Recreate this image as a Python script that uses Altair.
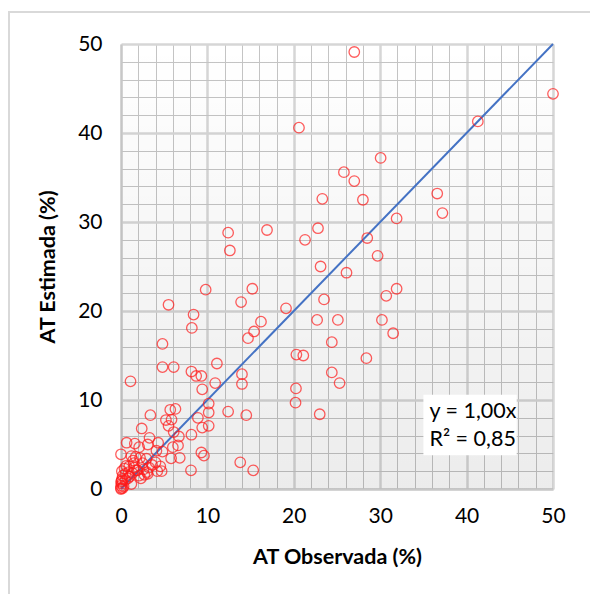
import altair as alt
import pandas as pd

observada = [27.0, 50.0, 20.6, 41.3, 30.05, 25.8, 27.0, 36.6, 23.3, 28.0, 37.2, 31.9,
             12.4, 16.9, 22.8, 21.3, 28.5, 12.6, 29.7, 23.1, 26.1, 9.8, 15.2, 31.9,
             30.7, 13.9, 23.5, 5.5, 19.1, 8.4, 22.7, 25.1, 30.2, 16.2, 8.2, 31.5,
             15.4, 14.7, 24.4, 4.8, 20.3, 21.1, 28.4, 11.1, 4.8, 6.1, 8.15, 8.7,
             9.3, 14.0, 24.4, 1.1, 14.0, 10.9, 25.3, 9.4, 20.25, 10.15, 20.2, 12.4,
             10.15, 23.0, 14.5, 3.4, 5.7, 6.3, 5.2, 5.85, 8.9, 5.5, 9.4, 10.15,
             2.4, 6.1, 8.15, 6.7, 3.3, 0.65, 1.6, 4.3, 6.0, 6.6, 3.1, 2.1,
             9.3, 9.6, 4.8, 4.1, 0.0, 1.2, 5.8, 6.8, 13.8, 15.3, 8.1, 4.7,
             4.2, 4.55, 3.6, 3.25, 2.7, 2.1, 1.4, 1.5, 2.5, 1.9, 1.2, 0.1,
             0.5, 0.8, 0.1, 0.1, 0.0, 0.0, 0.0, 0.2, 2.95, 1.8, 0.95, 3.1,
             4.0, 0.0, 0.2, 0.4, 0.3, 0.1, 0.5, 0.6, 0.9, 1.0, 1.3, 1.5,
             1.7, 2.2, 2.6, 3.0, 2.3]
estimada = [49.1, 44.4, 40.6, 41.3, 37.2, 35.6, 34.6, 33.2, 32.6, 32.5, 31.0, 30.4,
            28.8, 29.1, 29.3, 28.0, 28.2, 26.8, 26.2, 25.0, 24.3, 22.4, 22.5, 22.5,
            21.7, 21.0, 21.3, 20.7, 20.3, 19.6, 19.0, 19.0, 19.0, 18.8, 18.1, 17.5,
            17.7, 16.95, 16.5, 16.3, 15.1, 15.0, 14.7, 14.1, 13.7, 13.7, 13.2, 12.7,
            12.7, 12.9, 13.1, 12.1, 11.8, 11.9, 11.9, 11.2, 11.3, 9.6, 9.7, 8.7,
            8.6, 8.4, 8.3, 8.3, 8.9, 9.0, 7.75, 7.8, 8.0, 7.1, 6.9, 7.1,
            6.8, 6.4, 6.1, 5.9, 5.75, 5.2, 5.1, 5.2, 4.7, 4.9, 5.0, 4.7,
            4.1, 3.75, 4.2, 4.3, 3.9, 3.7, 3.45, 3.5, 3.0, 2.1, 2.1, 2.0,
            2.0, 2.55, 2.7, 2.4, 1.6, 1.5, 3.2, 2.9, 2.9, 2.1, 0.55, 2.0,
            1.7, 1.2, 1.1, 0.6, 0.35, 0.0, 0.1, 0.1, 3.4, 2.1, 2.55, 1.7,
            3.0, 0.8, 1.5, 2.3, 0.3, 0.9, 1.0, 2.6, 1.9, 1.4, 1.8, 2.4,
            3.6, 3.5, 2.2, 1.9, 1.2]

line_x = [0, 50]
line_y = [0, 50]

eq_lines = ["y = 1,00x", "R² = 0,85"]
eq_x = [35.7, 35.7]
eq_y = [8.7, 5.5]

box_x = [35.0]
box_x2 = [45.8]
box_y = [3.8]
box_y2 = [10.6]

df = pd.DataFrame({"obs": observada, "est": estimada})
df_line = pd.DataFrame({"obs": line_x, "est": line_y})
df_eq = pd.DataFrame({"t": eq_lines, "obs": eq_x, "est": eq_y})
df_box = pd.DataFrame({"obs": box_x, "obs2": box_x2, "est": box_y, "est2": box_y2})

FONT = "Lato"
W, H = 432, 445
PL, PT = 121, 44

grid_vals = list(range(0, 51, 2))
lab_expr = "datum.value % 10 === 0 ? datum.label : ''"
grid_w = {"condition": {"test": "datum.value % 10 === 0", "value": 2.5}, "value": 1}
grid_c = {"condition": {"test": "datum.value % 10 === 0", "value": "#d6d6d6"}, "value": "#c4c4c4"}

xscale = alt.Scale(domain=[0, 50], nice=False, zero=False, padding=0)
yscale = alt.Scale(domain=[0, 50], nice=False, zero=False, padding=0)

xaxis = alt.Axis(values=grid_vals, labelExpr=lab_expr, title="AT Observada (%)",
                 gridWidth=grid_w, gridColor=grid_c, ticks=False, labelFlush=False,
                 labelOverlap=False, labelBound=False,
                 domainColor="#c8c8c8", domainWidth=2, labelPadding=16,
                 labelFontSize=21, labelColor="#000000", titleFontSize=21.5,
                 titleFontWeight="bold", titleColor="#000000", titlePadding=20,
                 labelFont=FONT, titleFont=FONT)
yaxis = alt.Axis(values=grid_vals, labelExpr=lab_expr, title="AT Estimada (%)",
                 gridWidth=grid_w, gridColor=grid_c, ticks=False, labelFlush=False,
                 labelOverlap=False, labelBound=False,
                 domainColor="#c8c8c8", domainWidth=2, labelPadding=19,
                 labelFontSize=21, labelColor="#000000", titleFontSize=21.5,
                 titleFontWeight="bold", titleColor="#000000", titlePadding=18,
                 labelFont=FONT, titleFont=FONT)

X = alt.X("obs:Q", scale=xscale, axis=xaxis)
Y = alt.Y("est:Q", scale=yscale, axis=yaxis)

frame = alt.Chart(pd.DataFrame({"a": [0]})).mark_rect(
    fill=None, stroke="#d9d9d9", strokeWidth=2, clip=False
).encode(x=alt.value(9 - PL), x2=alt.value(700), y=alt.value(12 - PT), y2=alt.value(700))

bg = alt.Chart(pd.DataFrame({"a": [0]})).mark_rect(
    fill={"gradient": "linear", "x1": 0, "y1": 0, "x2": 0, "y2": 1,
          "stops": [{"offset": 0, "color": "rgba(0,0,0,0)"},
                    {"offset": 1, "color": "rgba(0,0,0,0.075)"}]}
).encode(x=alt.value(0), x2=alt.value(W), y=alt.value(0), y2=alt.value(H))

pts = alt.Chart(df).mark_point(
    shape="circle", filled=False, color="#ff1a1a", size=110, strokeWidth=1.3, clip=False
).encode(x=X, y=Y)

line = alt.Chart(df_line).mark_line(color="#4472c4", strokeWidth=2).encode(x=X, y=Y)

box = alt.Chart(df_box).mark_rect(fill="white").encode(
    x=X, x2="obs2:Q", y=Y, y2="est2:Q"
)

eq = alt.Chart(df_eq).mark_text(
    align="left", baseline="middle", font=FONT, fontSize=21.5, color="#000000"
).encode(x=X, y=Y, text="t:N")

chart = alt.layer(frame, bg, line, pts, box, eq).properties(
    width=W, height=H,
    padding={"left": PL, "top": PT, "right": 590 - PL - W, "bottom": 594 - PT - H},
    autosize=alt.AutoSizeParams(type="none"),
    background="white",
).configure_view(stroke=None)

chart.save("out.html", embed_options={"renderer": "svg", "actions": False})
